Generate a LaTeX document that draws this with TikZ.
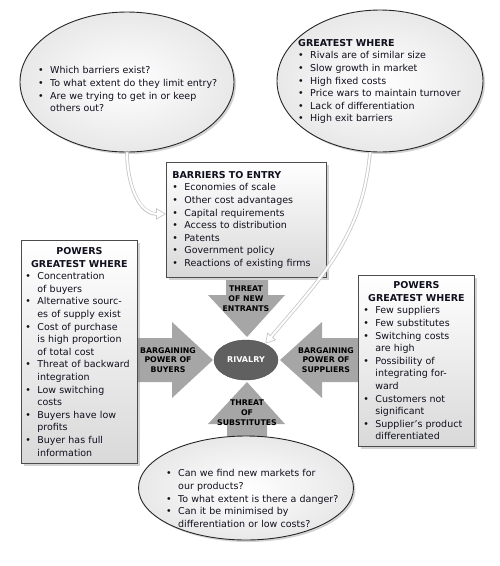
\documentclass[tikz,border=0pt]{standalone}
\usepackage{fontspec}
\setmainfont{DejaVu Sans}
\usepackage{enumitem}
\usepackage{tikz}
\usetikzlibrary{positioning,shapes.geometric,shadows,arrows.meta}

\definecolor{txt}{RGB}{15,15,30}
\definecolor{arrowgray}{RGB}{166,166,166}
\definecolor{rivalfill}{RGB}{96,96,96}
\setlist[itemize]{nosep,leftmargin=12pt,labelsep=6.5pt,label={\textbullet}}

\begin{document}
\begin{tikzpicture}[x=1pt,y=-1pt,font=\fontsize{9.5}{12.6}\selectfont,text=txt]
  \tikzstyle{bubble}=[ellipse,draw=black!85,line width=0.9pt,inner color=white,outer color=black!9,
                      drop shadow={shadow xshift=2pt,shadow yshift=-2pt,opacity=0.35}]
  \tikzstyle{box}=[rectangle,draw=black!70,line width=0.8pt,top color=white,bottom color=black!15,
                   drop shadow={shadow xshift=2.5pt,shadow yshift=-2.5pt,opacity=0.35},
                   inner xsep=5pt,inner ysep=0pt,align=left,anchor=north west]
  \tikzstyle{list}=[inner sep=0pt,anchor=north west,align=left]
  \tikzstyle{force}=[fill=arrowgray]
  \tikzstyle{forcetext}=[font=\fontsize{7.8}{9.8}\selectfont\bfseries,align=center,text=black,inner sep=0pt]

  \useasboundingbox (0,0) rectangle (500,566);

  % the four force arrows
  \fill[force] (226,280) -- (268,280) -- (268,295) -- (285,295) -- (247,337) -- (208,295) -- (226,295) -- cycle;
  \fill[force] (137,338) -- (172,338) -- (172,322) -- (213,360) -- (172,398) -- (172,382) -- (137,382) -- cycle;
  \fill[force] (358,338) -- (322,338) -- (322,322) -- (280,360) -- (322,398) -- (322,382) -- (358,382) -- cycle;
  \fill[force] (227,440) -- (227,424) -- (208,424) -- (247,382) -- (285,424) -- (267,424) -- (267,440) -- cycle;

  \node[forcetext] (newent) at (246,299) {THREAT\\OF NEW\\ENTRANTS};
  \node[forcetext] (buyers) at (168,360) {BARGAINING\\POWER OF\\BUYERS};
  \node[forcetext] (suppliers) at (326,360) {BARGAINING\\POWER OF\\SUPPLIERS};
  \node[forcetext] (subst) at (247,413) {THREAT\\OF\\SUBSTITUTES};

  \node[ellipse,fill=rivalfill,draw=black!70,minimum width=64,minimum height=40,text=white,
        font=\fontsize{8}{10}\selectfont\bfseries] (rivalry) at (246,360) {RIVALRY};

  % boxes
  \node[box,text width=148pt,minimum height=115pt,inner xsep=6pt] (barriers) at (166,162) {%
    \textbf{BARRIERS TO ENTRY}
    \begin{itemize}
      \item Economies of scale
      \item Other cost advantages
      \item Capital requirements
      \item Access to distribution
      \item Patents
      \item Government policy
      \item Reactions of existing firms
    \end{itemize}};

  \node[box,text width=108pt,minimum height=223pt,inner xsep=4pt] (buyerbox) at (21,240) {%
    {\centering\textbf{POWERS\\GREATEST WHERE}\par}
    \begin{itemize}
      \item Concentration\newline of buyers
      \item Alternative sourc-\newline es of supply exist
      \item Cost of purchase\newline is high proportion\newline of total cost
      \item Threat of backward\newline integration
      \item Low switching\newline costs
      \item Buyers have low\newline profits
      \item Buyer has full\newline information
    \end{itemize}};

  \node[box,text width=106pt,minimum height=171pt] (supplierbox) at (358,275) {%
    {\centering\textbf{POWERS\\GREATEST WHERE}\par}
    \begin{itemize}
      \item Few suppliers
      \item Few substitutes
      \item Switching costs\newline are high
      \item Possibility of\newline integrating for-\newline ward
      \item Customers not\newline significant
      \item Supplier's product\newline differentiated
    \end{itemize}};

  % question bubbles
  \node[bubble,minimum width=214,minimum height=140] (entryq) at (127,82) {};
  \node[list,text width=190pt] (entryqtext) at (38,61) {%
    \begin{itemize}
      \item Which barriers exist?
      \item To what extent do they limit entry?
      \item Are we trying to get in or keep\newline others out?
    \end{itemize}};

  \node[bubble,minimum width=206,minimum height=142] (greatest) at (380,81) {};
  \node[list,text width=180pt] (greatesttext) at (298,39) {%
    \textbf{GREATEST WHERE}
    \begin{itemize}
      \item Rivals are of similar size
      \item Slow growth in market
      \item High fixed costs
      \item Price wars to maintain turnover
      \item Lack of differentiation
      \item High exit barriers
    \end{itemize}};

  \node[bubble,minimum width=215,minimum height=104] (substq) at (246,488) {};
  \node[list,text width=190pt] (substqtext) at (166,464) {%
    \begin{itemize}
      \item Can we find new markets for\newline our products?
      \item To what extent is there a danger?
      \item Can it be minimised by\newline differentiation or low costs?
    \end{itemize}};

  % hollow connectors
  \draw[black!22,line width=3.6pt,-{Triangle[length=10pt,width=11pt]}]
    (entryq.south) to[out=-90,in=180] ([yshift=6pt]barriers.west);
  \draw[white,line width=2pt,shorten >=1.5pt,-{Triangle[length=7.5pt,width=8pt]}]
    (entryq.south) to[out=-90,in=180] ([yshift=6pt]barriers.west);
  \draw[black!22,line width=3.6pt,-{Triangle[length=10pt,width=11pt]}]
    ([xshift=-10pt]greatest.south) to[out=-95,in=50] (rivalry.40);
  \draw[white,line width=2pt,shorten >=1.5pt,-{Triangle[length=7.5pt,width=8pt]}]
    ([xshift=-10pt]greatest.south) to[out=-95,in=50] (rivalry.40);
\end{tikzpicture}
\end{document}
